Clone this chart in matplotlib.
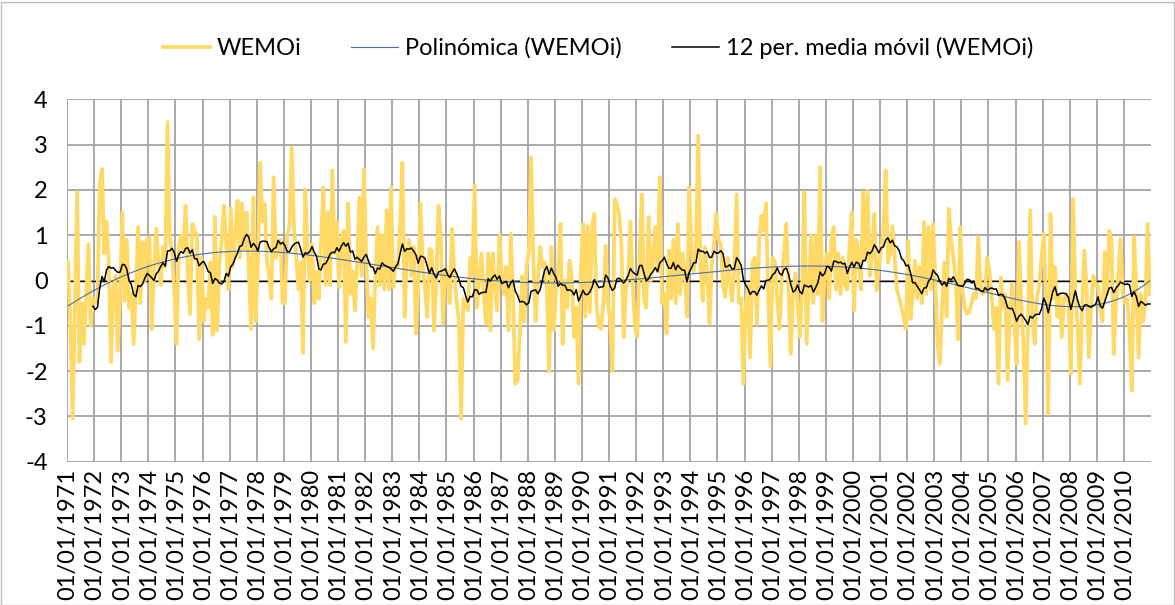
import numpy as np
import pandas as pd
import matplotlib
matplotlib.use("Agg")
import matplotlib.pyplot as plt
from matplotlib.lines import Line2D
from matplotlib.patches import Rectangle
from numpy.polynomial import Polynomial

plt.rcParams['font.family'] = ['Lato', 'DejaVu Sans']

# Monthly WEMOi values, Jan 1971 - Dec 2010
wemoi_1971_1975 = [
    0.4, -1.0, -3.05, -0.5, 1.95, -1.8, -0.5, -1.4, -0.3, 0.8, -1.0, -0.4,
    -0.5, -0.4, 2.13, 2.46, 0.6, 1.3, 0.4, -1.8, -0.2, 0.1, -1.55, -0.3,
    1.5, -0.45, 0.9, -0.6, -0.3, -1.4, -0.2, 1.18, -0.5, 0.85, 0.0, 0.9,
    0.95, -1.07, 0.2, 1.14, 0.4, -0.1, 0.74, 0.3, 3.5, 0.95, 0.6, -0.2,
    -1.4, 0.74, 1.0, 0.7, 1.65, 0.1, -0.74, 1.25, 1.1, 1.0, -1.3, 0.5,
]
wemoi_1976_1980 = [
    -0.9, -0.4, -0.6, 0.4, -1.2, 1.4, -1.1, 0.4, 0.9, 1.65, 0.8, -0.2,
    1.6, 0.3, 1.0, 1.76, 0.5, 1.7, 0.7, 1.5, 0.2, -1.07, 1.84, -0.9,
    0.3, 2.6, 1.3, 1.7, 0.45, 0.1, -0.4, 2.28, 0.5, 0.85, 0.9, -0.5,
    -0.5, 1.0, 1.2, 2.94, 1.2, 0.5, -0.2, 0.4, -1.6, 2.0, 0.7, 0.0,
    0.8, -0.5, 0.2, -0.4, 0.9, 2.05, -0.1, 1.5, -0.1, 2.43, 0.6, 1.3,
]
wemoi_1981_1985 = [
    -0.15, 0.9, 1.1, -1.36, 1.7, -0.3, 0.2, -0.66, 0.4, 1.84, 0.1, 2.46,
    0.5, -0.8, -0.4, -1.5, 0.0, 1.18, -0.1, 1.0, -0.2, 1.55, -0.2, 2.06,
    -0.15, 0.4, 0.3, 1.25, 2.6, -0.8, 0.6, 0.9, 0.1, 0.74, -1.17, -0.2,
    1.7, 0.3, -0.15, -0.8, 0.7, 0.65, -1.1, -0.1, 1.65, 1.0, -0.96, 0.2,
    0.2, -0.5, 1.14, 0.2, -0.45, -0.9, -3.05, -0.4, -0.5, -0.66, 0.5, 0.1,
]
wemoi_1986_1990 = [
    2.1, -0.6, 0.0, 0.6, -0.3, -0.96, 0.6, -1.1, 0.6, -0.1, -0.66, 1.0,
    0.1, -0.3, 0.3, -1.1, 1.03, -0.3, -2.28, -2.2, -1.2, 0.1, -0.9, 0.3,
    0.66, 2.72, 0.5, -0.9, 0.0, 0.74, 0.3, 0.4, -0.2, -2.0, 0.74, -1.1,
    -0.3, 0.3, 1.25, -1.4, 0.0, -0.6, 0.44, 0.1, -1.25, -0.6, -2.28, 0.2,
    1.25, -0.8, 1.2, -0.7, 1.2, 1.47, -0.6, -1.0, -1.07, -0.5, 0.77, -0.5,
]
wemoi_1991_1995 = [
    -0.9, -2.0, 1.8, 1.7, 1.47, 0.8, -1.25, -0.15, 0.1, 1.3, -0.1, -1.0,
    -1.25, 0.5, 1.9, -0.4, -0.6, 1.4, 0.0, 0.5, 1.18, 0.2, 2.28, -0.5,
    -0.3, -1.17, 0.66, -0.4, 0.9, -0.5, 1.25, -0.3, 0.6, 0.2, -0.8, 2.06,
    0.8, 0.2, 0.7, 3.2, 0.3, -0.45, 0.74, 0.1, -0.96, 0.3, 0.8, 1.47,
    0.9, 0.8, -0.1, -0.37, 0.5, 0.0, -0.45, 0.3, 1.9, -0.5, -0.4, -2.28,
]
wemoi_1996_2000 = [
    -0.6, -0.1, -1.7, 0.4, 0.5, -0.96, 0.88, 1.43, 1.1, 1.7, -0.3, -1.9,
    0.5, 0.4, -0.4, -1.07, 0.0, 0.6, 1.25, -0.2, -1.62, -0.3, 0.15, -0.5,
    -1.25, -0.2, 1.95, -1.4, -0.2, 1.0, -0.5, 1.0, -0.3, 2.5, -0.9, 0.2,
    0.6, -0.4, 0.9, 1.18, -0.2, 0.6, -0.3, 0.5, -0.1, -0.2, 0.75, 1.5,
    -0.66, 0.9, 0.6, -0.2, 1.95, 0.5, 1.98, 0.1, 0.6, 1.47, -0.22, 0.3,
]
wemoi_2001_2005 = [
    0.7, 1.1, 2.43, 0.4, 0.6, 1.2, 0.5, -0.2, -0.37, -0.6, -0.8, -1.07,
    0.88, -0.85, -0.3, 0.44, -0.4, 0.3, -0.5, 1.29, -0.3, 1.18, -0.2, 1.25,
    0.0, -1.4, -1.84, -0.6, 0.4, -0.8, 1.58, 0.9, 0.5, 0.0, -1.3, 1.18,
    -0.2, -0.6, -0.74, -0.7, -0.5, -0.3, -0.4, 0.96, -0.1, -0.3, -0.2, 0.5,
    0.2, -0.4, -1.07, -0.6, -2.28, 0.07, -0.6, -0.3, -2.2, -0.6, -0.07, -0.9,
]
wemoi_2006_2010 = [
    -1.84, 0.85, -0.44, -1.4, -3.16, -0.96, 1.55, -0.8, -1.4, -0.37, -0.1, 0.5,
    1.03, -0.5, -2.94, 1.47, -0.4, 0.3, -0.8, -0.3, -1.25, -0.4, -0.3, -0.5,
    -2.06, 1.8, -0.3, -1.0, -2.28, -0.6, 0.66, -0.2, -1.7, -0.6, 0.1, -0.1,
    -0.1, -0.6, -0.9, 0.62, -0.3, 1.1, 0.9, -1.62, -0.5, 0.1, 0.92, -0.3,
    -0.5, -0.4, -1.2, -2.43, 0.96, -0.2, -1.7, -0.3, -0.9, -0.5, 1.25, -0.3,
]

tick_years = list(range(1971, 2011))
tick_labels = [f"01/01/{y}" for y in tick_years]
y_ticks = [-4, -3, -2, -1, 0, 1, 2, 3, 4]

wemoi = np.array(wemoi_1971_1975 + wemoi_1976_1980 + wemoi_1981_1985 +
                 wemoi_1986_1990 + wemoi_1991_1995 + wemoi_1996_2000 +
                 wemoi_2001_2005 + wemoi_2006_2010)
n = len(wemoi)
x = np.arange(n)
ma12 = pd.Series(wemoi).rolling(12).mean().to_numpy()
trend = Polynomial.fit(x + 1, wemoi, 6)(x + 1)

W, H = 1175, 605
fig = plt.figure(figsize=(W / 100, H / 100), dpi=100)
ax = fig.add_axes([67 / W, 1 - 461.7 / H, (1151 - 67) / W, (461.7 - 99.3) / H])

grid_c = '#A3A3A3'
for yv in y_ticks:
    ax.axhline(yv, color=grid_c, lw=1.3, zorder=0)
for k in range(len(tick_years)):
    ax.axvline(12 * k - 0.5, color=grid_c, lw=1.3, zorder=0)
ax.axhline(0, color='black', lw=1.0, zorder=1)

ax.plot(x, wemoi, color='#FFD966', lw=2.7, zorder=2, solid_joinstyle='round')
ax.plot(x, trend, color='#4A6FA8', lw=0.8, zorder=3)
ax.plot(x, ma12, color='black', lw=1.1, zorder=4)

ax.set_xlim(-0.5, n - 0.5)
ax.set_ylim(-4, 4)
ax.set_yticks(y_ticks)
ax.set_yticklabels([str(v) for v in y_ticks], fontsize=17)
ax.set_xticks([12 * k for k in range(len(tick_years))])
ax.set_xticklabels(tick_labels, rotation=90, fontsize=17)
ax.tick_params(axis='y', length=0, pad=14)
ax.tick_params(axis='x', length=0, pad=5)
for s in ax.spines.values():
    s.set_visible(False)

handles = [Line2D([], [], color='#FFD966', lw=2.7),
           Line2D([], [], color='#4A6FA8', lw=0.8),
           Line2D([], [], color='black', lw=1.1)]
labels = ['WEMOi', 'Polinómica (WEMOi)', '12 per. media móvil (WEMOi)']
fig.legend(handles, labels, loc='center', bbox_to_anchor=(598 / W, 1 - 48 / H),
           ncol=3, frameon=False, fontsize=17, handlelength=2.0,
           handletextpad=0.3, columnspacing=2.1)

fig.patches.append(Rectangle((0.5 / W, 0.5 / H), (W - 2) / W, (H - 2) / H,
                             transform=fig.transFigure, fill=False,
                             edgecolor='#BFBFBF', lw=1.0))

fig.savefig('out.png', dpi=100)
